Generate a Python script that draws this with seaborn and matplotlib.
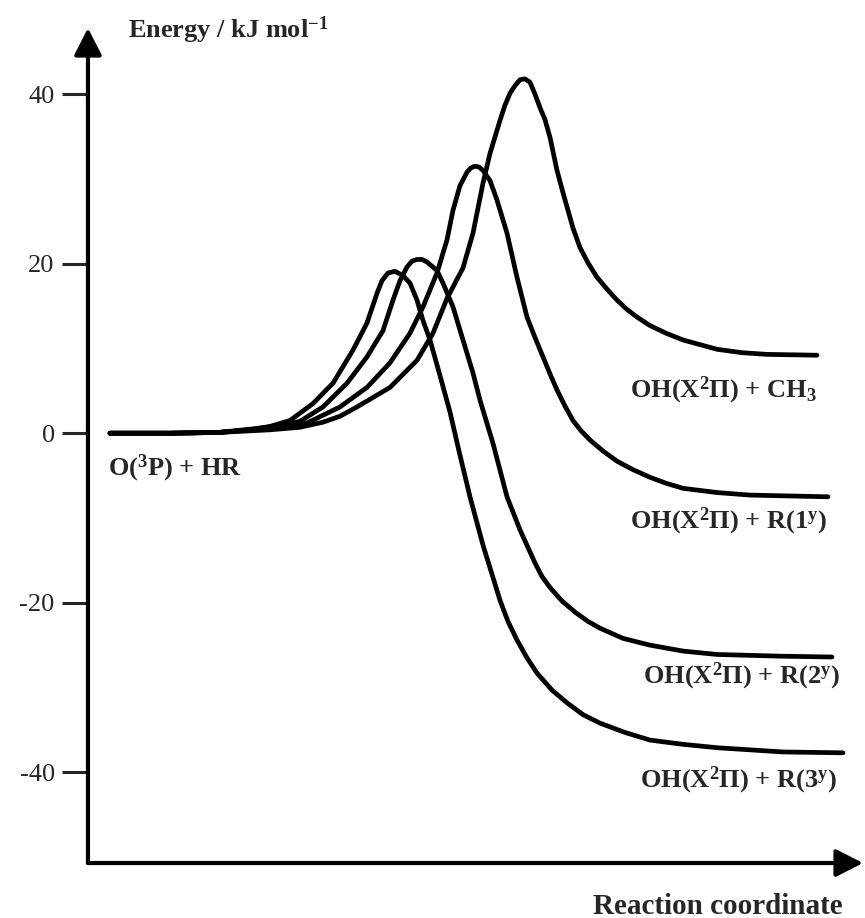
import pandas as pd
import seaborn as sns
import matplotlib.pyplot as plt

### data ###
# reaction coordinate (arbitrary units) and energy (kJ/mol) for each exit channel

rc_ch3 = [2.2, 8.2, 13.2, 18.2, 21.2, 23.5, 25.2, 26.9, 30.2, 32.9, 34.5, 35.9, 37.5, 38.5, 39.5, 40.2,
          41.2, 41.7, 42.2, 42.7, 43.2, 43.7, 44.2, 44.7, 45.2, 45.7, 46.2, 46.9, 47.4, 47.9, 48.5, 49.2,
          50.0, 50.9, 51.9, 52.9, 53.9, 54.9, 56.2, 57.8, 59.5, 62.9, 65.4, 67.9, 72.9]
e_ch3 = [0, 0, 0.1, 0.4, 0.7, 1.3, 2.0, 3.1, 5.4, 8.6, 11.8, 15.9, 19.5, 23.6, 29.5, 33.0,
         36.9, 38.7, 40.1, 41.0, 41.7, 41.8, 41.4, 40.0, 38.4, 37.0, 34.9, 31.0, 28.8, 26.7, 24.2, 21.9,
         20.1, 18.4, 17.0, 15.7, 14.6, 13.7, 12.7, 11.8, 11.0, 9.9, 9.5, 9.3, 9.2]

rc_1y = [2.2, 8.2, 13.2, 18.2, 21.9, 25.2, 27.9, 30.2, 32.2, 33.5, 34.9, 35.9, 36.5, 37.2, 37.9, 38.3,
         38.7, 39.1, 39.5, 40.2, 40.9, 41.9, 42.9, 43.9, 44.7, 45.5, 46.2, 46.9, 47.7, 48.5, 49.3, 50.2,
         51.5, 52.9, 54.5, 56.2, 57.8, 59.5, 62.9, 66.2, 74.0]
e_1y = [0, 0, 0.1, 0.6, 1.2, 3.1, 5.4, 8.3, 11.8, 14.9, 18.9, 22.8, 26.3, 29.2, 30.8, 31.3,
        31.5, 31.4, 31.0, 29.8, 27.5, 23.6, 18.4, 13.7, 11.3, 9.0, 7.0, 5.1, 3.2, 1.5, 0.3, -0.8,
        -2.1, -3.3, -4.3, -5.2, -5.9, -6.5, -7.0, -7.3, -7.5]

rc_2y = [2.2, 8.2, 13.2, 17.2, 19.2, 21.2, 23.5, 25.9, 27.9, 29.5, 30.5, 31.2, 31.9, 32.4, 32.9, 33.4,
         33.9, 34.9, 35.5, 36.5, 37.5, 38.5, 39.2, 40.5, 41.9, 43.2, 44.7, 45.4, 46.2, 47.4, 48.7, 50.0,
         51.2, 53.5, 56.2, 59.5, 62.9, 69.2, 74.4]
e_2y = [0, 0, 0.1, 0.6, 0.9, 1.4, 3.1, 5.9, 9.0, 12.1, 15.7, 18.0, 19.6, 20.3, 20.5, 20.5,
        20.2, 19.2, 17.7, 14.9, 11.0, 7.1, 3.9, -1.2, -7.5, -11.4, -15.3, -16.9, -18.2, -19.8, -21.1, -22.2,
        -23.0, -24.2, -25.0, -25.7, -26.1, -26.3, -26.4]

rc_3y = [2.2, 8.2, 13.2, 16.2, 18.2, 20.2, 22.5, 24.5, 26.5, 27.9, 28.9, 29.4, 30.0, 30.7, 31.5, 32.2,
         32.9, 33.5, 34.2, 35.2, 36.2, 37.2, 38.2, 39.5, 41.2, 42.0, 42.9, 43.9, 44.9, 46.4, 47.9, 49.5,
         51.2, 53.7, 56.2, 59.5, 62.9, 69.5, 75.5]
e_3y = [0, 0, 0.1, 0.4, 0.8, 1.5, 3.5, 5.9, 9.8, 13.0, 16.5, 18.0, 18.9, 19.1, 18.6, 17.7,
        15.7, 13.3, 11.0, 6.8, 2.5, -2.6, -7.5, -13.2, -19.7, -22.2, -24.4, -26.5, -28.3, -30.3, -31.8, -33.2,
        -34.2, -35.3, -36.2, -36.7, -37.1, -37.6, -37.7]

channels = ['CH3', '1y', '2y', '3y']
yticks = [-40, -20, 0, 20, 40]

# labels for the channels: (text, rc, energy)
reactant_label = ('O($^{\\mathbf{3}}$P) + HR', 2.0, -4.1)
product_labels = [
    ('OH(X$^{\\mathbf{2}}$Π) + CH$_{\\mathbf{3}}$', 54.2, 5.0),
    ('OH(X$^{\\mathbf{2}}$Π) + R(1$^{\\mathbf{y}}$)', 54.2, -10.4),
    ('OH(X$^{\\mathbf{2}}$Π) + R(2$^{\\mathbf{y}}$)', 55.5, -28.7),
    ('OH(X$^{\\mathbf{2}}$Π) + R(3$^{\\mathbf{y}}$)', 55.2, -40.9),
]

df = pd.concat([
    pd.DataFrame({'rc': rc_ch3, 'energy': e_ch3, 'channel': 'CH3'}),
    pd.DataFrame({'rc': rc_1y, 'energy': e_1y, 'channel': '1y'}),
    pd.DataFrame({'rc': rc_2y, 'energy': e_2y, 'channel': '2y'}),
    pd.DataFrame({'rc': rc_3y, 'energy': e_3y, 'channel': '3y'}),
])

sns.set_style('white')
plt.rcParams['font.family'] = ['Liberation Serif', 'DejaVu Serif']
plt.rcParams['mathtext.fontset'] = 'custom'
plt.rcParams['mathtext.rm'] = 'Liberation Serif'
plt.rcParams['mathtext.bf'] = 'Liberation Serif:bold'
plt.rcParams['mathtext.it'] = 'Liberation Serif:italic'

fig = plt.figure(figsize=(8.65, 9.18), dpi=100)
ax = fig.add_axes([0.1017, 0.0599, 0.8960, 0.9096])

sns.lineplot(data=df, x='rc', y='energy', hue='channel', hue_order=channels,
             palette=['black'] * 4, lw=3.4, legend=False, estimator=None, ax=ax)
for ln in ax.lines:
    ln.set_solid_joinstyle('round')
    ln.set_solid_capstyle('round')

ax.set_xlim(0, 77.5)
ax.set_ylim(-50.7, 47.8)
ax.set_xticks([])
ax.set_yticks(yticks)
ax.set_yticklabels([str(t) for t in yticks])
ax.tick_params(axis='y', length=19, width=2.2, direction='out', pad=5, labelsize=19, left=True)
ax.set_xlabel('')
ax.set_ylabel('')
for s in ax.spines.values():
    s.set_visible(False)

# axes with arrow heads
arrow = dict(arrowstyle='-|>,head_length=0.55,head_width=0.28', lw=3, color='black',
             mutation_scale=30, shrinkA=0, shrinkB=0)
ax.annotate('', xy=(0, 1), xytext=(0, 0), xycoords='axes fraction', arrowprops=arrow, annotation_clip=False)
ax.annotate('', xy=(1, 0), xytext=(0, 0), xycoords='axes fraction', arrowprops=arrow, annotation_clip=False)

# text
ax.text(reactant_label[1], reactant_label[2], reactant_label[0], fontsize=19, fontweight='bold', va='center')
for txt, x, y in product_labels:
    ax.text(x, y, txt, fontsize=19, fontweight='bold', va='center')

fig.text(128 / 865, 1 - 30 / 918, 'Energy / kJ mol$^{\\mathbf{-1}}$', fontsize=19, fontweight='bold', va='center')
fig.text(593 / 865, 1 - 906 / 918, 'Reaction coordinate', fontsize=21, fontweight='bold', va='center')

fig.savefig('out.png', dpi=100)
